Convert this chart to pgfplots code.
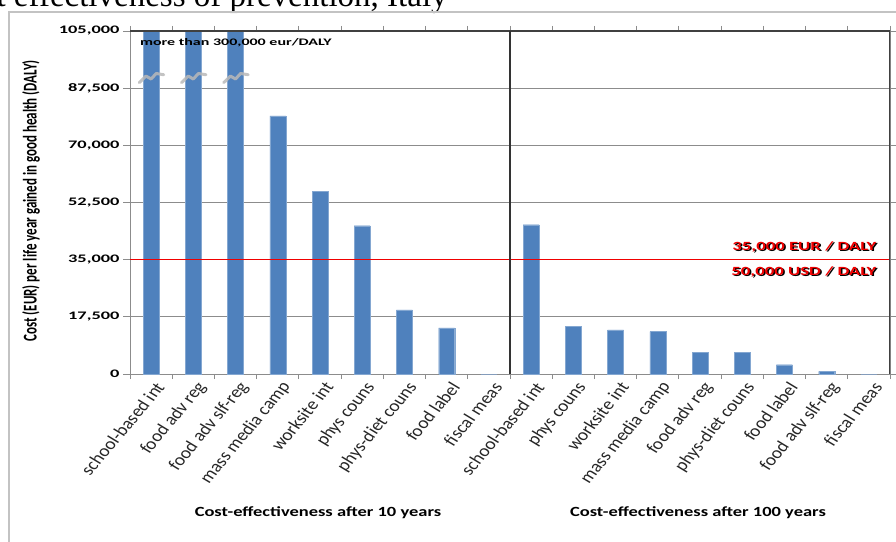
\documentclass[border=0pt]{standalone}
\usepackage{pgfplots}
\pgfplotsset{compat=1.18}
\usepackage{fontspec}
\setmainfont{Carlito}
\newfontfamily\titlefont{Liberation Serif}

\definecolor{barblue}{RGB}{79,129,189}
\definecolor{gridgray}{RGB}{140,140,140}
\definecolor{framegray}{RGB}{195,195,195}
\definecolor{refred}{RGB}{240,0,0}

% cost per DALY, 10-year horizon (positions 0-8) and 100-year horizon (positions 9-17)
\pgfplotstableread{
pos cost
0   300000
1   300000
2   300000
3   79000
4   56000
5   45400
6   19600
7   14100
8   0
9   45700
10  14600
11  13500
12  13000
13  6600
14  6600
15  2850
16  800
17  0
}\costdata

\newcommand{\redlabel}[1]{%
  \makebox[0pt][r]{\rlap{\raisebox{-1pt}{\hspace*{1pt}\color{black}#1}}\color{refred}#1}}

\begin{document}
\begin{tikzpicture}[x=1pt,y=1pt]
\useasboundingbox (0,0) rectangle (896,541);

% page title, partly outside the frame
\node[anchor=base west, inner sep=0, font=\titlefont\fontsize{33}{35}\selectfont]
  at (-55,534) {Cost effectiveness of prevention, Italy};

% chart area frame
\draw[framegray, line width=1.6] (9,-10) -- (9,529) -- (910,529);

\begin{axis}[
  at={(130pt,167pt)}, anchor=south west,
  scale only axis, width=760pt, height=343pt,
  xmin=-0.5, xmax=17.5, ymin=0, ymax=105000,
  scaled y ticks=false,
  ytick={0,17500,35000,52500,70000,87500,105000},
  yticklabels={0,{17,500},{35,000},{52,500},{70,000},{87,500},{105,000}},
  yticklabel style={font=\bfseries\fontsize{11.5}{12}\selectfont, xscale=1.6, anchor=east, inner sep=2pt},
  xtick={0,...,17},
  xticklabels={school-based int, food adv reg, food adv slf-reg, mass media camp,
    worksite int, phys couns, phys-diet couns, food label, fiscal meas,
    school-based int, phys couns, worksite int, mass media camp, food adv reg,
    phys-diet couns, food label, food adv slf-reg, fiscal meas},
  xticklabel style={font=\fontsize{16.5}{17}\selectfont, xscale=1.18, rotate=54.5,
    anchor=east, inner sep=1pt, yshift=-8pt, xshift=3pt, text=black!85},
  minor xtick={-0.5,0.5,...,17.5},
  x tick style={draw=none},
  minor x tick style={draw=gridgray, line width=0.8},
  y tick style={draw=gridgray, line width=0.8},
  tick align=outside,
  major tick length=7pt, minor tick length=5pt,
  ymajorgrids, grid style={draw=gridgray, line width=0.8},
  axis line style={draw=gridgray, line width=0.8},
  clip=true,
]
\addplot[ybar, bar width=16pt, fill=barblue, draw=barblue!70!white, line width=0.3]
  table[x=pos, y=cost] {\costdata};

% 35,000 EUR (50,000 USD) per DALY threshold
\addplot[refred, line width=1.4pt] coordinates {(-0.5,35000) (17.5,35000)};

% frame: dark top and right edges and group divider
\draw[black!75, line width=1.2] (rel axis cs:0,1) -- (rel axis cs:1,1) -- (rel axis cs:1,0);
\draw[black!80, line width=1.3] (axis cs:8.5,0) -- (axis cs:8.5,105000);

% axis-break marks on the truncated bars
\pgfplotsinvokeforeach{0,1,2}{
  \draw[gray!55, line width=3pt, line join=round, line cap=round, opacity=0.85]
    (axis cs:#1-0.28,89200) -- (axis cs:#1-0.12,91200) -- (axis cs:#1,90300)
    -- (axis cs:#1+0.12,92000) -- (axis cs:#1+0.3,91600);
}

\node[anchor=west, inner sep=0, font=\bfseries\fontsize{10}{11}\selectfont, xscale=1.6]
  at (axis cs:-0.27,101300) {more than 300,000 eur/DALY};

\node[anchor=south east, inner sep=0, font=\bfseries\fontsize{12.5}{13}\selectfont, xscale=1.5]
  at (axis cs:17.2,36800) {\redlabel{35,000 EUR / DALY}};
\node[anchor=north east, inner sep=0, font=\bfseries\fontsize{12.5}{13}\selectfont, xscale=1.5]
  at (axis cs:17.2,33000) {\redlabel{50,000 USD / DALY}};
\end{axis}

% axis and group titles
\node[font=\bfseries\fontsize{13}{14}\selectfont, xscale=1.5, rotate=90]
  at (31,340) {Cost (EUR) per life year gained in good health (DALY)};
\node[font=\bfseries\fontsize{14}{15}\selectfont, xscale=1.32] at (318,28)
  {Cost-effectiveness after 10 years};
\node[font=\bfseries\fontsize{14}{15}\selectfont, xscale=1.32] at (698,28)
  {Cost-effectiveness after 100 years};
\end{tikzpicture}
\end{document}
